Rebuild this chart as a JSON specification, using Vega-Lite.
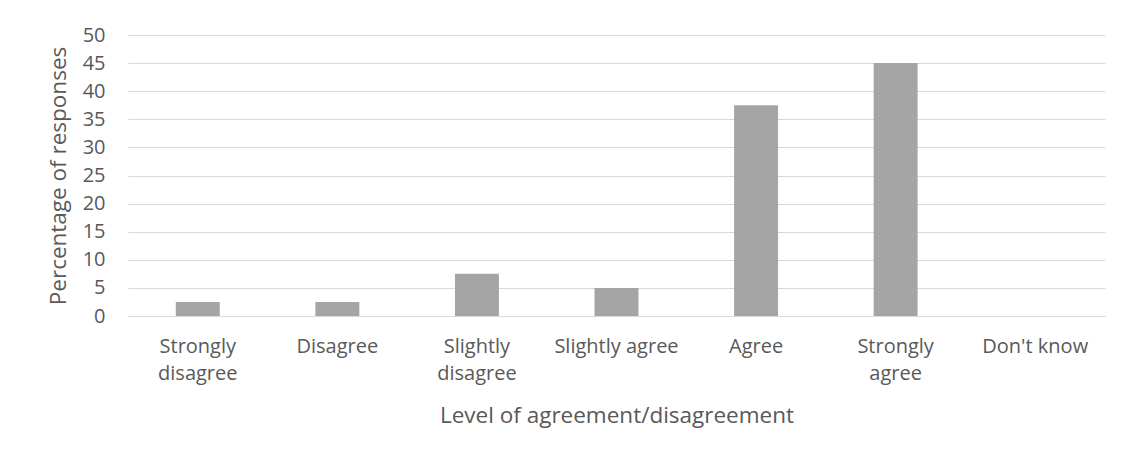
{
  "$schema": "https://vega.github.io/schema/vega-lite/v6.json",
  "autosize": "none",
  "padding": {"left": 128, "top": 35, "right": 17, "bottom": 145},
  "width": 977,
  "height": 281,
  "background": "white",
  "data": {"values": [
    {"level": "Strongly disagree", "pct": 2.5},
    {"level": "Disagree", "pct": 2.5},
    {"level": "Slightly disagree", "pct": 7.5},
    {"level": "Slightly agree", "pct": 5},
    {"level": "Agree", "pct": 37.5},
    {"level": "Strongly agree", "pct": 45},
    {"level": "Don't know", "pct": 0}
  ]},
  "mark": {"type": "bar", "color": "#A5A5A5"},
  "encoding": {
    "x": {
      "field": "level", "type": "nominal", "sort": null,
      "scale": {"paddingInner": 0.685, "paddingOuter": 0.3425},
      "axis": {
        "title": "Level of agreement/disagreement",
        "labelAngle": 0,
        "ticks": false,
        "domainColor": "#D9D9D9",
        "labelPadding": 20,
        "labelFontSize": 20,
        "labelLineHeight": 27,
        "labelExpr": "indexof(['Strongly disagree','Slightly disagree','Strongly agree'], datum.value) >= 0 ? split(datum.value, ' ') : datum.value",
        "titlePadding": 21,
        "titleFontSize": 22.5
      }
    },
    "y": {
      "field": "pct", "type": "quantitative",
      "scale": {"domain": [0, 50]},
      "axis": {
        "title": "Percentage of responses",
        "values": [0,5,10,15,20,25,30,35,40,45,50],
        "ticks": false,
        "domain": false,
        "gridColor": "#D9D9D9",
        "labelPadding": 23,
        "labelFontSize": 20,
        "titlePadding": 12,
        "titleFontSize": 22.5
      }
    }
  },
  "config": {
    "font": "Open Sans",
    "view": {"stroke": null},
    "axis": {
      "labelColor": "#595959",
      "titleColor": "#595959",
      "titleFontWeight": "normal",
      "labelFont": "Open Sans",
      "titleFont": "Open Sans"
    }
  }
}
